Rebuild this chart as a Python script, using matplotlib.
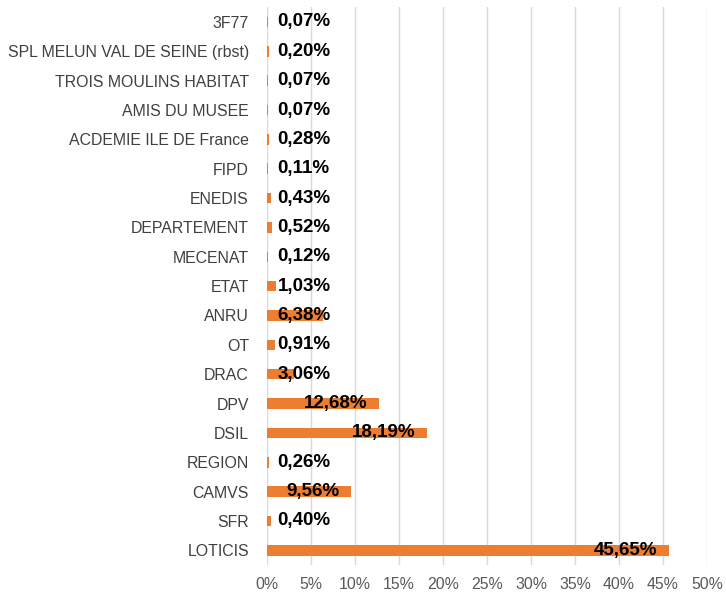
import matplotlib.pyplot as plt
from matplotlib.ticker import FuncFormatter

# categories listed from bottom to top
categories = ['LOTICIS', 'SFR', 'CAMVS', 'REGION', 'DSIL', 'DPV', 'DRAC', 'OT',
              'ANRU', 'ETAT', 'MECENAT', 'DEPARTEMENT', 'ENEDIS', 'FIPD',
              'ACDEMIE ILE DE France', 'AMIS DU MUSEE', 'TROIS MOULINS HABITAT',
              'SPL MELUN VAL DE SEINE (rbst)', '3F77']
values = [45.65, 0.40, 9.56, 0.26, 18.19, 12.68, 3.06, 0.91,
          6.38, 1.03, 0.12, 0.52, 0.43, 0.11,
          0.28, 0.07, 0.07, 0.20, 0.07]
xticks = [0, 5, 10, 15, 20, 25, 30, 35, 40, 45, 50]

plt.rcParams['font.family'] = ['Liberation Sans', 'DejaVu Sans']

fig = plt.figure(figsize=(7.26, 5.98), dpi=100)
ax = fig.add_axes([0.3678, 0.0552, 0.9738 - 0.3678, 0.9878 - 0.0552])

y = range(len(categories))
ax.barh(y, values, height=0.36, color='#ED7D31', zorder=3)

ax.set_xlim(0, 50)
ax.set_ylim(-0.5, len(categories) - 0.5)
ax.set_xticks(xticks)
ax.xaxis.set_major_formatter(FuncFormatter(lambda v, p: '%d%%' % v))
ax.set_yticks(list(y))
ax.set_yticklabels(categories)
ax.grid(axis='x', color='#D9D9D9', linewidth=1, zorder=0)
for s in ax.spines.values():
    s.set_visible(False)
ax.tick_params(axis='both', length=0, labelsize=11.4, colors='#404040')
ax.tick_params(axis='x', pad=9, colors='#595959')
ax.tick_params(axis='y', pad=13)

# data labels: inside end when the bar is long enough, else near the axis
for i, v in enumerate(values):
    txt = ('%.2f%%' % v).replace('.', ',')
    if v > 8:
        ax.text(v - 1.3, i, txt, ha='right', va='center', fontsize=13.5,
                fontweight='bold', color='black', zorder=4)
    else:
        ax.text(1.2, i, txt, ha='left', va='center', fontsize=13.5,
                fontweight='bold', color='black', zorder=4)

fig.savefig('out.png', dpi=100)
